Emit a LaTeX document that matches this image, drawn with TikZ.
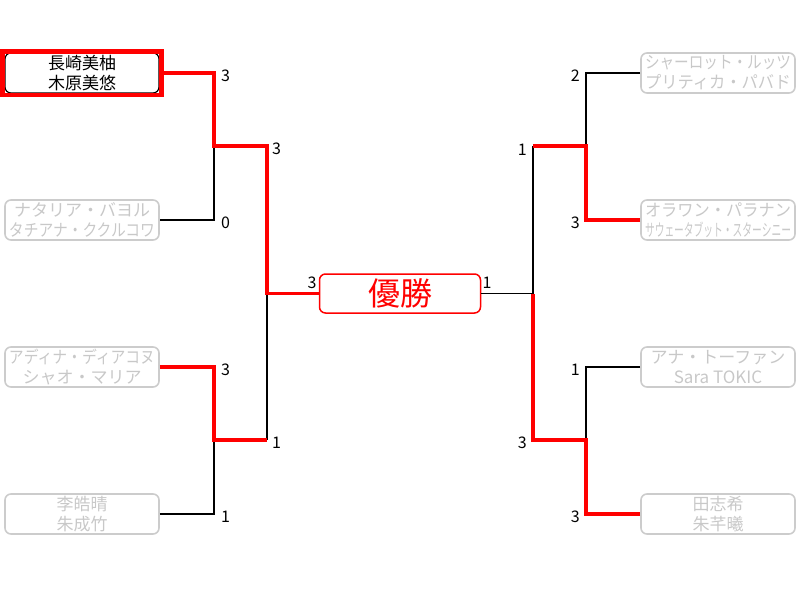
\documentclass[tikz,border=0pt]{standalone}
\usepackage{fontspec}
\usepackage{graphicx}
\setmainfont{Noto Sans CJK JP}
\newlength\fitlen
\newcommand\fitl[1]{\settowidth\fitlen{#1}\ifdim\fitlen>146pt\resizebox{146pt}{\height}{#1}\else#1\fi}
\definecolor{boxgrey}{HTML}{CCCCCC}
\definecolor{txtgrey}{HTML}{C8C8C8}
\definecolor{winred}{HTML}{FF0000}
\begin{document}
\begin{tikzpicture}[x=1pt,y=-1pt,
  player/.style={draw=boxgrey,line width=1.6pt,rounded corners=6pt,minimum width=154pt,minimum height=40pt,inner sep=0pt,align=center,text=txtgrey,font=\fontsize{17}{20}\selectfont},
  champ/.style={player,draw=black,line width=1.2pt,text=black},
  final/.style={draw=winred,line width=1.5pt,rounded corners=6pt,minimum width=161pt,minimum height=39pt,inner sep=0pt,text=winred,font=\fontsize{32}{34}\selectfont},
  loss/.style={draw=black,line width=1.7pt},
  win/.style={draw=winred,line width=3.8pt},
  score/.style={font=\fontsize{16}{18}\selectfont,inner sep=0pt,text=black},
  scl/.style={score,anchor=west},
  scr/.style={score,anchor=east}]
\useasboundingbox (0,0) rectangle (800,600);
% boxes
\node[champ] (L1) at (82,73) {長崎美柚\\木原美悠};
\draw[winred,line width=4.5pt] (2.5,51.5) rectangle (161.5,95);
\node[player] (L2) at (82,220) {\fitl{ナタリア・バヨル}\\\fitl{タチアナ・ククルコワ}};
\node[player] (L3) at (82,367) {\fitl{アディナ・ディアコヌ}\\\fitl{シャオ・マリア}};
\node[player] (L4) at (82,514) {李皓晴\\朱成竹};
\node[player] (R1) at (718,73) {\fitl{シャーロット・ルッツ}\\\fitl{プリティカ・パバド}};
\node[player] (R2) at (718,220) {\fitl{オラワン・パラナン}\\\fitl{サウェータブット・スターシニー}};
\node[player] (R3) at (718,367) {\fitl{アナ・トーファン}\\Sara TOKIC};
\node[player] (R4) at (718,514) {田志希\\朱芊曦};
\node[final] (W) at (400,293.5) {優勝};
% junctions
\coordinate (jL1) at (214,73);
\coordinate (jL2) at (214,220);
\coordinate (mL12) at (214,146);
\coordinate (kL12) at (267,146);
\coordinate (jL3) at (214,367);
\coordinate (jL4) at (214,514);
\coordinate (mL34) at (214,440);
\coordinate (kL34) at (267,440);
\coordinate (mL) at (267,293.5);
\coordinate (jR1) at (586,73);
\coordinate (jR2) at (586,220);
\coordinate (mR12) at (586,146);
\coordinate (kR12) at (533,146);
\coordinate (jR3) at (586,367);
\coordinate (jR4) at (586,514);
\coordinate (mR34) at (586,440);
\coordinate (kR34) at (533,440);
\coordinate (mR) at (533,293.5);
% losing lines
\draw[loss] (mL12) -- (jL2) -- (L2.east);
\draw[loss] (L4.east) -- (jL4) -- (mL34);
\draw[loss] (kL34) -- (mL);
\draw[loss] (R1.west) -- (jR1) -- (mR12);
\draw[loss] (R3.west) -- (jR3) -- (mR34);
\draw[loss] (kR12) -- (mR) -- (W.east);
% winning lines
\draw[win] (L1.east) -- (jL1) -- (mL12) -- (kL12) -- (mL) -- (W.west);
\draw[win] (L3.east) -- (jL3) -- (mL34) -- (kL34);
\draw[win] (R2.west) -- (jR2) -- (mR12) -- (kR12);
\draw[win] (R4.west) -- (jR4) -- (mR34) -- (kR34) -- (mR);
% scores
\node[scl] (s1) at (221,76) {3};
\node[scl] (s2) at (221,223) {0};
\node[scl] (s3) at (221,370) {3};
\node[scl] (s4) at (221,517) {1};
\node[scl] (s5) at (272,149) {3};
\node[scl] (s6) at (272,443) {1};
\node[scr] (s7) at (580,76) {2};
\node[scr] (s8) at (580,223) {3};
\node[scr] (s9) at (580,370) {1};
\node[scr] (s10) at (580,517) {3};
\node[scr] (s11) at (527,150) {1};
\node[scr] (s12) at (527,443) {3};
\node[score] (s13) at (312,283) {3};
\node[score] (s14) at (487,283) {1};
\end{tikzpicture}
\end{document}
